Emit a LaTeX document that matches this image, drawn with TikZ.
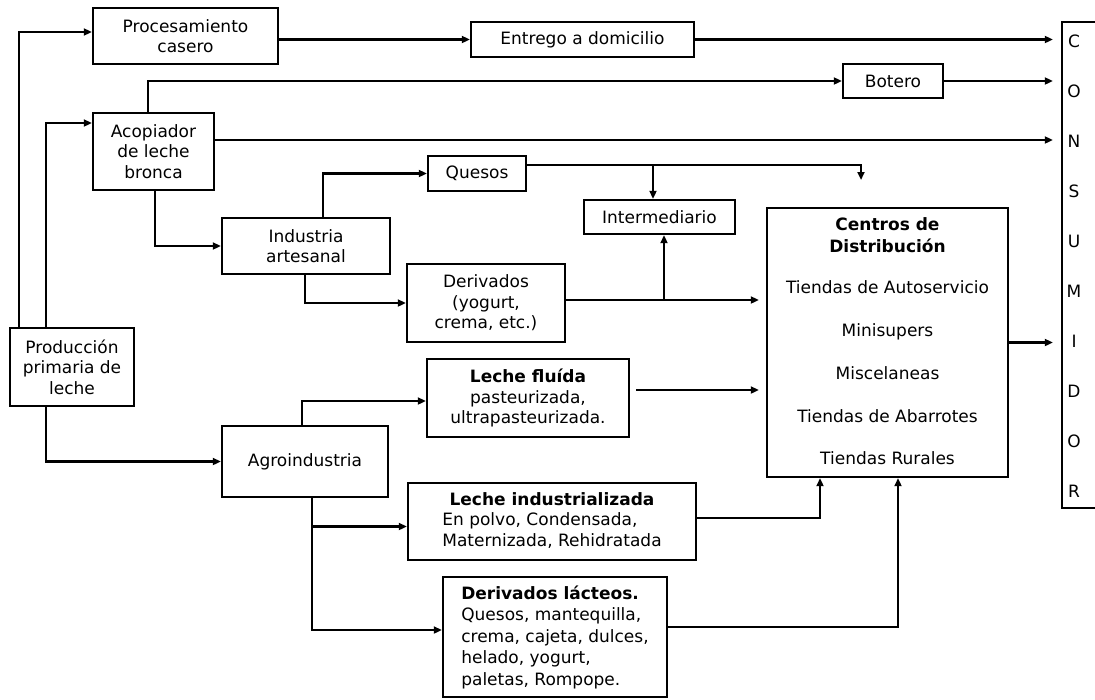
\documentclass[tikz,border=0pt]{standalone}
\usepackage{fontspec}
\setmainfont{DejaVu Sans}
\usetikzlibrary{arrows.meta}
\newcommand\boxfont{\fontsize{17}{20.5}\selectfont}
\begin{document}
\begin{tikzpicture}[x=1pt,y=-1pt,
  box/.style={draw,line width=2.4pt,inner sep=0pt,align=center,font=\boxfont},
  lbl/.style={font=\boxfont,inner sep=0pt,anchor=base},
  flow/.style={line width=2.4pt,-{Triangle[length=8pt,width=7pt]}}]
\clip (0,0) rectangle (1095,699);
\fill[white] (0,0) rectangle (1095,699);

% boxes
\node[box,minimum width=185pt,minimum height=56pt] (proc) at (185.5,36) {Procesamiento\\casero};
\node[box,minimum width=223pt,minimum height=35pt] (entrega) at (582.5,39.5) {Entrego a domicilio};
\node[box,minimum width=100pt,minimum height=34pt] (botero) at (893,81) {Botero};
\node[box,minimum width=121pt,minimum height=77pt] (acop) at (153.5,151.5) {Acopiador\\de leche\\bronca};
\node[box,minimum width=98pt,minimum height=35pt] (quesos) at (477,173.5) {Quesos};
\node[box,minimum width=151pt,minimum height=34pt] (inter) at (659.5,217) {Intermediario};
\node[box,minimum width=168pt,minimum height=56pt] (indart) at (306,246) {Industria\\artesanal};
\node[box,minimum width=158pt,minimum height=78pt] (deriv) at (486,303) {Derivados\\(yogurt,\\crema, etc.)};
\node[box,minimum width=241pt,minimum height=269pt] (centros) at (887.5,342.5) {};
\node[box,minimum width=124pt,minimum height=78pt] (prod) at (72,367) {Producción\\primaria de\\leche};
\node[box,minimum width=202pt,minimum height=78pt] (lflu) at (528,398) {\textbf{Leche fluída}\\pasteurizada,\\ultrapasteurizada.};
\node[box,minimum width=166pt,minimum height=71pt] (agro) at (305,461.5) {Agroindustria};
\node[box,minimum width=288pt,minimum height=77pt] (lind) at (552,521.5)
  {\begin{tabular}{@{}l@{}}\multicolumn{1}{@{}c@{}}{\textbf{Leche industrializada}}\\En polvo, Condensada,\\Maternizada, Rehidratada\end{tabular}};
\node[box,align=left,minimum width=224pt,minimum height=120pt,font={\fontsize{17}{21.5}\selectfont}] (dlac) at (555,637)
  {\textbf{Derivados lácteos.}\\Quesos, mantequilla,\\crema, cajeta, dulces,\\helado, yogurt,\\paletas, Rompope.};

% distribution centre contents
\node[lbl,font=\boxfont\bfseries] (ct1) at (887.5,230) {Centros de};
\node[lbl,font=\boxfont\bfseries] (ct2) at (887.5,252) {Distribución};
\node[lbl] (ct3) at (887.5,293) {Tiendas de Autoservicio};
\node[lbl] (ct4) at (887.5,336) {Minisupers};
\node[lbl] (ct5) at (887.5,379) {Miscelaneas};
\node[lbl] (ct6) at (887.5,422) {Tiendas de Abarrotes};
\node[lbl] (ct7) at (887.5,464) {Tiendas Rurales};

% consumer column
\node[draw,line width=2.4pt,minimum width=60pt,minimum height=486pt,inner sep=0pt] (cons) at (1092,265) {};
\foreach \l [count=\i] in {C,O,N,S,U,M,I,D,O,R}
  \node[font=\boxfont,inner sep=0pt] (cl\i) at (1074,{41+50*(\i-1)}) {\l};

% connectors
\draw[flow] ([xshift=10pt]prod.north west) |- ([yshift=4pt]proc.west);
\draw[flow] ([xshift=37pt]prod.north west) |- ([yshift=28.5pt]acop.west);
\draw[flow] (proc.east |- entrega.west) -- (entrega.west);
\draw[flow,shorten >=8pt] (entrega.east) -- (entrega.east -| cons.west);
\draw[flow] ([xshift=-5.5pt]acop.north) |- (botero.west);
\draw[flow,shorten >=8pt] (botero.east) -- (botero.east -| cons.west);
\coordinate (acopout) at ([yshift=11.5pt]acop.east);
\draw[flow,shorten >=8pt] (acopout) -- (acopout -| cons.west);
\draw[flow] ([xshift=1.5pt]acop.south) |- (indart.west);
\draw[flow] ([xshift=17pt]indart.north) |- (quesos.west);
\coordinate (quesosout) at ([yshift=8.5pt]quesos.east);
\coordinate (quesosend) at (861,180);
\draw[flow] (quesosout) -| (quesosend);
\coordinate (interin) at ([xshift=-6.5pt]inter.north);
\draw[flow] (interin |- quesosout) -- (interin);
\draw[flow] ([xshift=-1pt]indart.south) |- (deriv.west);
\coordinate (derivout) at ([yshift=3pt]deriv.east);
\draw[flow,shorten >=7pt] (derivout) -- (derivout -| centros.west);
\coordinate (interup) at ([xshift=4.5pt]inter.south);
\draw[flow] (interup |- derivout) -- (interup);
\draw[flow,shorten >=8pt] (centros.east) -- (centros.east -| cons.west);
\draw[flow] ([xshift=37pt]prod.south west) |- (agro.west);
\draw[flow] ([xshift=-3pt]agro.north) |- ([yshift=-3pt]lflu.west);
\coordinate (lfluout) at ([yshift=8pt]lflu.east);
\draw[flow,shorten <=6pt,shorten >=7pt] (lfluout) -- (lfluout -| centros.west);
\coordinate (agroleg) at ([xshift=7pt]agro.south);
\coordinate (lindin) at ([yshift=-5pt]lind.west);
\draw[flow] (agroleg) |- ([yshift=7pt]dlac.west);
\draw[flow] (agroleg |- lindin) -- (lindin);
\draw[flow] ([yshift=3.5pt]lind.east) -| ([xshift=-67.5pt]centros.south);
\draw[flow] ([yshift=10pt]dlac.east) -| ([xshift=10.5pt]centros.south);
\end{tikzpicture}
\end{document}
